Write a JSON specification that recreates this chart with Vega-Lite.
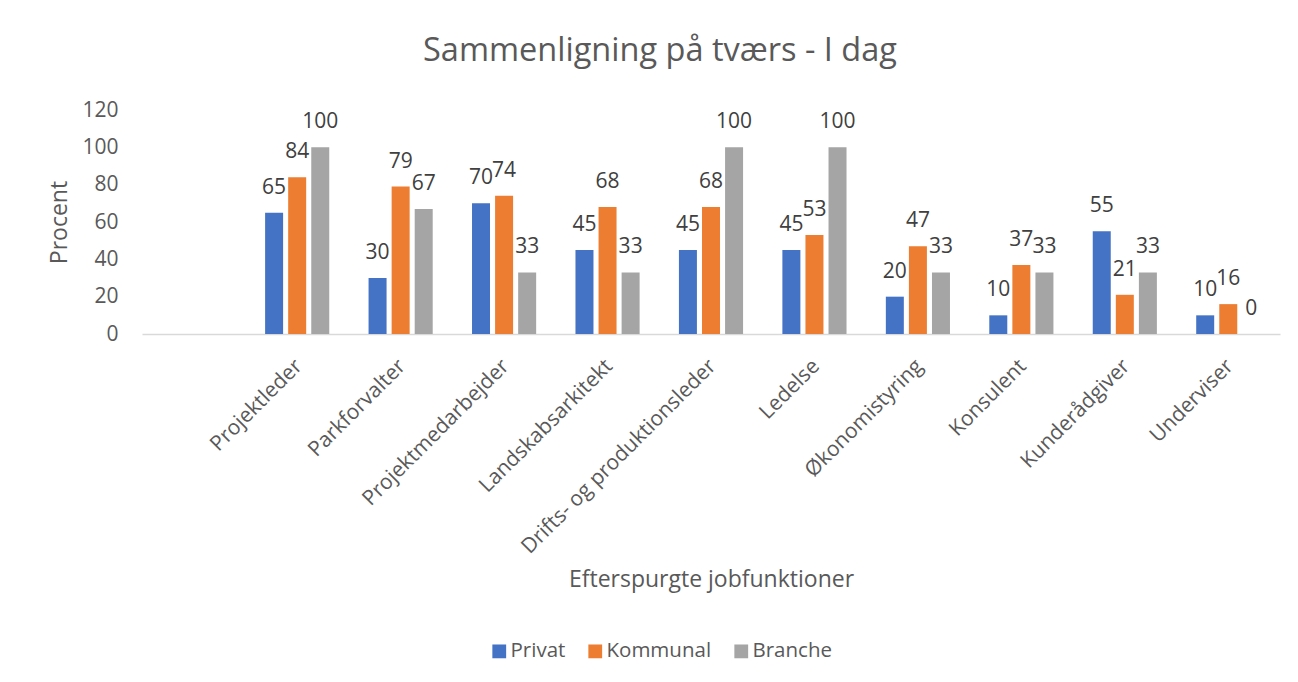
{
  "$schema": "https://vega.github.io/schema/vega-lite/v6.json",
  "width": 1138,
  "height": 224,
  "autosize": "none",
  "padding": {"left": 142, "top": 110, "right": 18, "bottom": 348},
  "background": "white",
  "config": {"font": "Open Sans", "view": {"stroke": null}},
  "title": {"text": "Sammenligning på tværs - I dag", "fontSize": 32.5, "font": "Open Sans", "fontWeight": "normal", "color": "#595959", "anchor": "middle", "offset": 32, "dx": -51},
  "data": {"values": [
    {"job": "Projektleder", "serie": "Privat", "value": 65},
    {"job": "Projektleder", "serie": "Kommunal", "value": 84},
    {"job": "Projektleder", "serie": "Branche", "value": 100},
    {"job": "Parkforvalter", "serie": "Privat", "value": 30},
    {"job": "Parkforvalter", "serie": "Kommunal", "value": 79},
    {"job": "Parkforvalter", "serie": "Branche", "value": 67},
    {"job": "Projektmedarbejder", "serie": "Privat", "value": 70},
    {"job": "Projektmedarbejder", "serie": "Kommunal", "value": 74},
    {"job": "Projektmedarbejder", "serie": "Branche", "value": 33},
    {"job": "Landskabsarkitekt", "serie": "Privat", "value": 45},
    {"job": "Landskabsarkitekt", "serie": "Kommunal", "value": 68},
    {"job": "Landskabsarkitekt", "serie": "Branche", "value": 33},
    {"job": "Drifts- og produktionsleder", "serie": "Privat", "value": 45},
    {"job": "Drifts- og produktionsleder", "serie": "Kommunal", "value": 68},
    {"job": "Drifts- og produktionsleder", "serie": "Branche", "value": 100},
    {"job": "Ledelse", "serie": "Privat", "value": 45},
    {"job": "Ledelse", "serie": "Kommunal", "value": 53},
    {"job": "Ledelse", "serie": "Branche", "value": 100},
    {"job": "Økonomistyring", "serie": "Privat", "value": 20},
    {"job": "Økonomistyring", "serie": "Kommunal", "value": 47},
    {"job": "Økonomistyring", "serie": "Branche", "value": 33},
    {"job": "Konsulent", "serie": "Privat", "value": 10},
    {"job": "Konsulent", "serie": "Kommunal", "value": 37},
    {"job": "Konsulent", "serie": "Branche", "value": 33},
    {"job": "Kunderådgiver", "serie": "Privat", "value": 55},
    {"job": "Kunderådgiver", "serie": "Kommunal", "value": 21},
    {"job": "Kunderådgiver", "serie": "Branche", "value": 33},
    {"job": "Underviser", "serie": "Privat", "value": 10},
    {"job": "Underviser", "serie": "Kommunal", "value": 16},
    {"job": "Underviser", "serie": "Branche", "value": 0}
  ]},
  "encoding": {
    "x": {
      "field": "job", "type": "nominal", "sort": null,
      "scale": {"domain": [" ", "Projektleder", "Parkforvalter", "Projektmedarbejder", "Landskabsarkitekt", "Drifts- og produktionsleder", "Ledelse", "Økonomistyring", "Konsulent", "Kunderådgiver", "Underviser"], "paddingInner": 0.38, "paddingOuter": 0.19},
      "axis": {"labelAngle": -45, "labelFontSize": 21, "labelColor": "#595959", "labelLimit": 500, "labelOffset": -6, "domainColor": "#d9d9d9", "domainWidth": 1.5, "ticks": false, "labelPadding": 21, "title": "Efterspurgte jobfunktioner", "titleFontSize": 23, "titleFontWeight": "normal", "titleColor": "#595959", "titleY": 234}
    },
    "xOffset": {"field": "serie", "type": "nominal", "sort": ["Privat", "Kommunal", "Branche"], "scale": {"paddingInner": 0.22}},
    "y": {
      "field": "value", "type": "quantitative",
      "scale": {"domain": [0, 120]},
      "axis": {"values": [0, 20, 40, 60, 80, 100, 120], "grid": false, "domain": false, "ticks": false, "labelFontSize": 21, "labelColor": "#595959", "labelPadding": 24, "title": "Procent", "titleFontSize": 23, "titleFontWeight": "normal", "titleColor": "#595959", "titlePadding": 10}
    }
  },
  "layer": [
    {
      "mark": {"type": "bar"},
      "encoding": {
        "color": {"field": "serie", "type": "nominal", "sort": ["Privat", "Kommunal", "Branche"],
          "scale": {"domain": ["Privat", "Kommunal", "Branche"], "range": ["#4472C4", "#ED7D31", "#A5A5A5"]},
          "legend": {"title": null, "orient": "none", "legendX": 347, "legendY": 531, "direction": "horizontal", "symbolType": "square", "symbolSize": 190, "symbolStrokeWidth": 0, "labelFontSize": 20.5, "labelColor": "#595959", "columnPadding": 19, "labelOffset": 1}}
      }
    },
    {
      "mark": {"type": "text", "fontSize": 21, "color": "#404040", "baseline": "middle", "dy": -25},
      "encoding": {"text": {"field": "value", "type": "quantitative"}}
    }
  ]
}
